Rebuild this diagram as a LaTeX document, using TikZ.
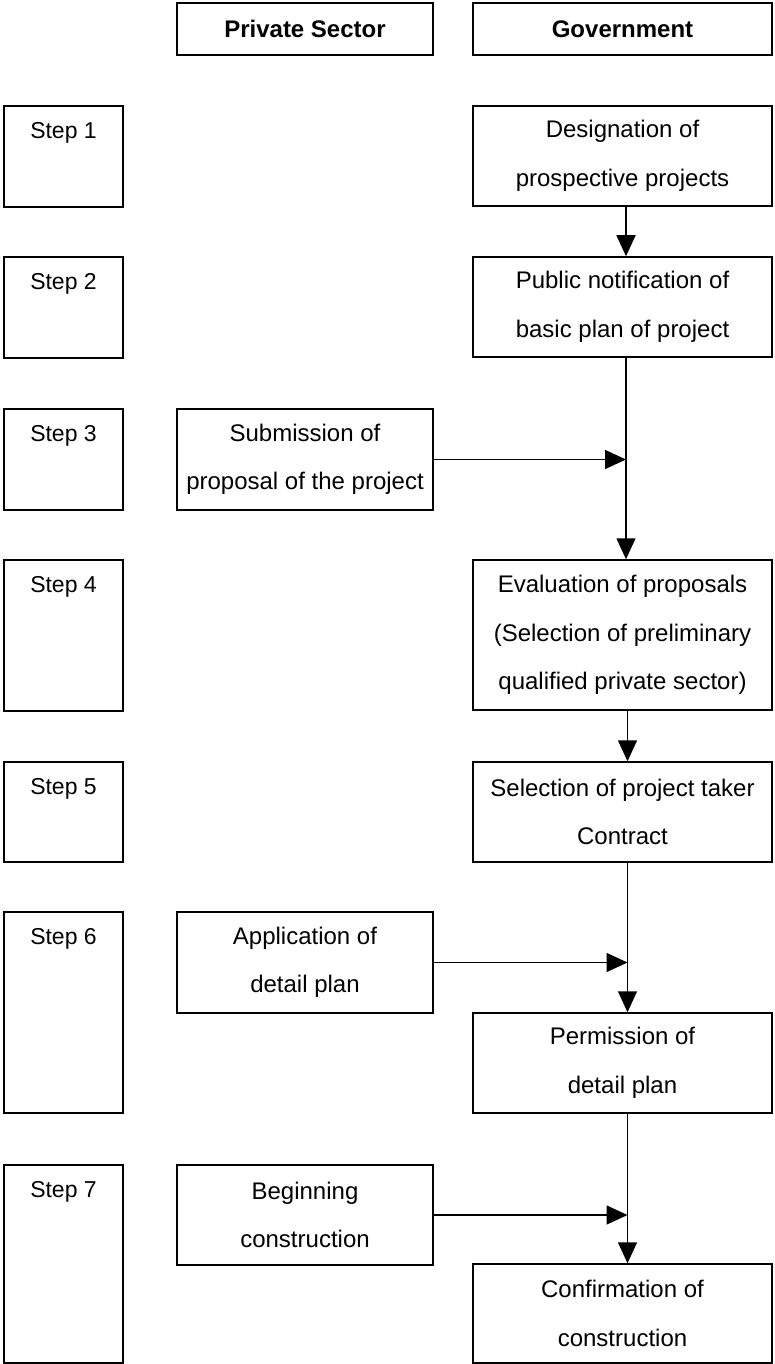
\documentclass[tikz,border=0pt]{standalone}
\usepackage{fontspec}
\setmainfont{Liberation Sans}
\usetikzlibrary{arrows.meta}
\tikzset{
  box/.style={draw, line width=1.5pt, inner sep=0pt, align=center,
    font=\fontsize{24}{48.5}\selectfont},
  stepbox/.style={draw, line width=1.5pt, inner sep=0pt, minimum width=119pt,
    label={[anchor=base,yshift=-33pt,font=\fontsize{23}{28}\selectfont]north:#1}},
  hdr/.style={draw, line width=1.5pt, inner sep=0pt, align=center,
    font=\fontsize{24}{28}\selectfont\bfseries, minimum height=52pt},
  flow/.style={line width=1.5pt, -{Triangle[width=19pt,length=21pt]}},
}
\begin{document}
\begin{tikzpicture}[x=1pt,y=-1pt]
\useasboundingbox (0,0) rectangle (774,1364);
% headers
\node[hdr, minimum width=256pt] (hp) at (305,29) {Private Sector};
\node[hdr, minimum width=299pt] (hg) at (622.5,29) {Government};
% step boxes
\node[stepbox=Step 1, minimum height=101pt] (s1) at (63.5,156.5) {};
\node[stepbox=Step 2, minimum height=101pt] (s2) at (63.5,307.5) {};
\node[stepbox=Step 3, minimum height=101pt] (s3) at (63.5,459.5) {};
\node[stepbox=Step 4, minimum height=151pt] (s4) at (63.5,635.5) {};
\node[stepbox=Step 5, minimum height=100pt] (s5) at (63.5,812) {};
\node[stepbox=Step 6, minimum height=201pt] (s6) at (63.5,1012.5) {};
\node[stepbox=Step 7, minimum height=198pt] (s7) at (63.5,1264) {};
% government boxes
\node[box, minimum width=299pt, minimum height=100pt] (desig) at (622.5,156) {Designation of\\prospective projects};
\node[box, minimum width=299pt, minimum height=100pt] (pub) at (622.5,307) {Public notification of\\basic plan of project};
\node[box, minimum width=299pt, minimum height=150pt] (eval) at (622.5,635) {Evaluation of proposals\\(Selection of preliminary\\qualified private sector)};
\node[box, minimum width=299pt, minimum height=100pt] (sel) at (622.5,812) {Selection of project taker\\Contract};
\node[box, minimum width=299pt, minimum height=100pt] (perm) at (622.5,1063) {Permission of\\detail plan};
\node[box, minimum width=299pt, minimum height=99pt] (conf) at (622.5,1313.5) {Confirmation of\\construction};
% private sector boxes
\node[box, minimum width=256pt, minimum height=101pt] (sub) at (305,459.5) {Submission of\\proposal of the project};
\node[box, minimum width=256pt, minimum height=101pt] (app) at (305,962.5) {Application of\\detail plan};
\node[box, minimum width=256pt, minimum height=100pt] (beg) at (305,1215) {Beginning\\construction};
% junction points on the main line
\coordinate (j3) at ([xshift=3.5pt]pub.south |- sub.east);
\coordinate (j6) at ([xshift=5pt]sel.south |- app.east);
\coordinate (j7) at ([xshift=5pt]perm.south |- beg.east);
% connectors
\draw[flow] ([xshift=3.5pt]desig.south) -- ([xshift=3.5pt]pub.north);
\draw[flow] ([xshift=3.5pt]pub.south) -- ([xshift=3.5pt]eval.north);
\draw[flow] (sub.east) -- (j3);
\draw[flow] ([xshift=5pt]eval.south) -- ([xshift=5pt]sel.north);
\draw[flow] ([xshift=5pt]sel.south) -- ([xshift=5pt]perm.north);
\draw[flow] (app.east) -- (j6);
\draw[flow] ([xshift=5pt]perm.south) -- ([xshift=5pt]conf.north);
\draw[flow] (beg.east) -- (j7);
\end{tikzpicture}
\end{document}
